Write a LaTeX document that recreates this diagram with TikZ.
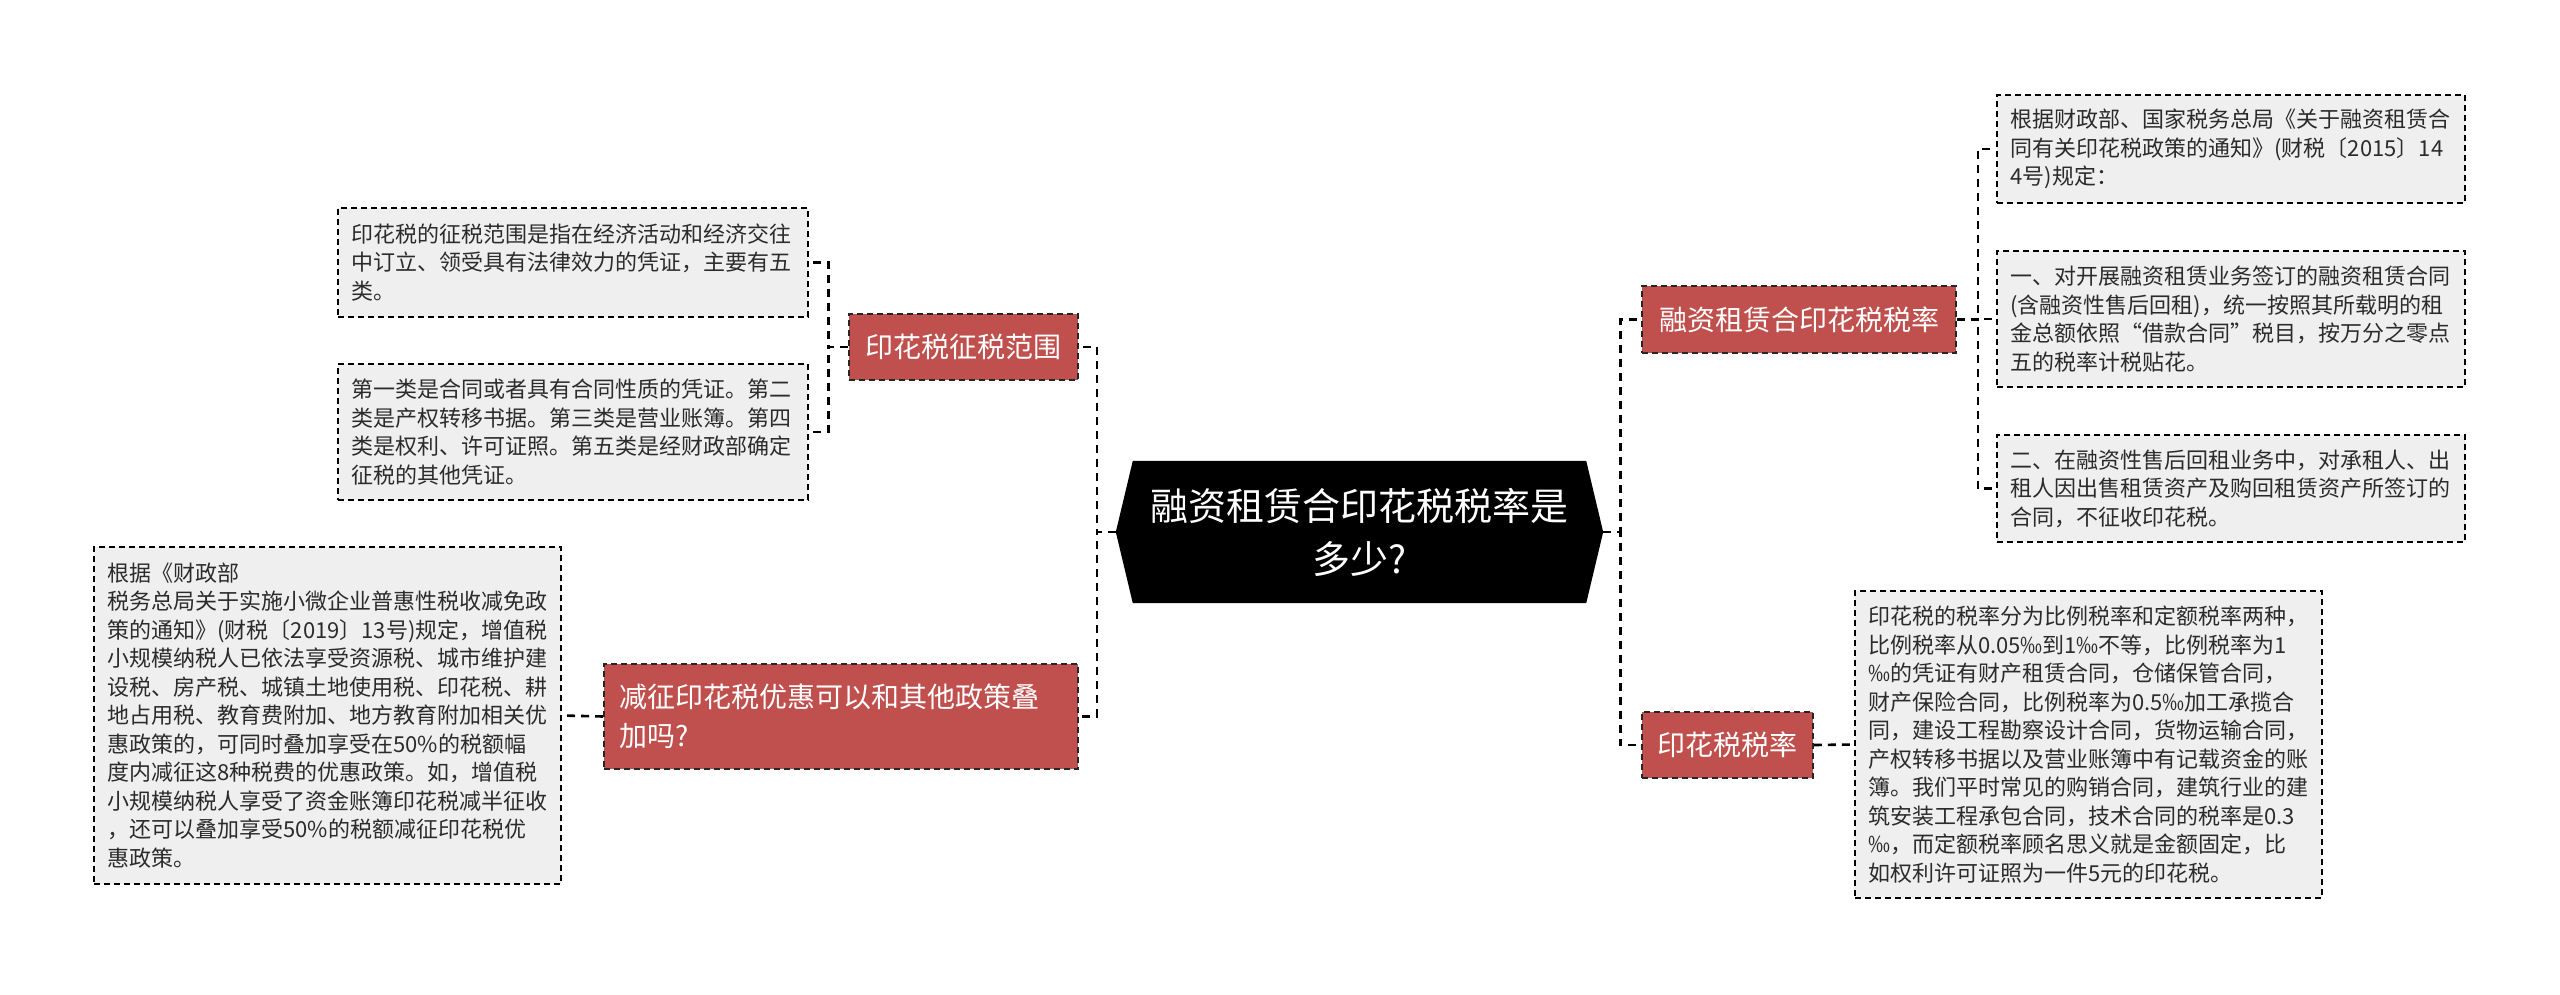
\documentclass[tikz,border=0pt]{standalone}
\usepackage{fontspec}
\setmainfont{Noto Sans CJK SC}
\usetikzlibrary{calc,backgrounds}
\definecolor{redfill}{HTML}{C0504D}
\definecolor{greyfill}{HTML}{EFEFEF}
\definecolor{txt}{HTML}{2B2B2B}
\tikzset{
  textbox/.style={draw=black, dash pattern=on 6pt off 4pt, line width=1.6pt, fill=greyfill, text=txt, align=left, inner sep=0pt, font=\fontsize{22}{28.5}\selectfont},
  redbox/.style={draw=black!85, dash pattern=on 6pt off 4pt, line width=1.6pt, fill=redfill, text=white, inner sep=0pt, font=\fontsize{28}{39}\selectfont},
  rootbox/.style={inner sep=0pt, text=white, align=center, font=\fontsize{38}{53}\selectfont},
  conn/.style={draw=black, line width=2.6pt, dash pattern=on 8pt off 6pt},
}
\begin{document}
\begin{tikzpicture}[x=1pt,y=-1pt]
\useasboundingbox (0,0) rectangle (2560,994);

% central node
\node[rootbox, minimum width=487pt, minimum height=142pt] (c) at (1359.5,532) {融资租赁合印花税税率是\\多少?};
\begin{scope}[on background layer]
\fill[black] (c.west) -- ($(c.north west)+(17,0)$) -- ($(c.north east)+(-17,0)$) -- (c.east) -- ($(c.south east)+(-17,0)$) -- ($(c.south west)+(17,0)$) -- cycle;
\end{scope}

% left branch 1
\node[redbox, minimum width=229pt, minimum height=66pt] (r1) at (963.5,347) {印花税征税范围};
\node[textbox, minimum width=470pt, minimum height=109pt, text width=443pt] (a) at (573,262.5) {印花税的征税范围是指在经济活动和经济交往\\中订立、领受具有法律效力的凭证，主要有五\\类。};
\node[textbox, minimum width=470pt, minimum height=136pt, text width=443pt] (b) at (573,432) {第一类是合同或者具有合同性质的凭证。第二\\类是产权转移书据。第三类是营业账簿。第四\\类是权利、许可证照。第五类是经财政部确定\\征税的其他凭证。};

% left branch 2
\node[redbox, align=left, minimum width=474pt, minimum height=105pt, text width=444pt] (r2) at (841,716.5) {减征印花税优惠可以和其他政策叠\\加吗?};
\node[textbox, minimum width=467pt, minimum height=337pt, text width=440pt] (cb) at (327.5,715.5) {根据《财政部\\税务总局关于实施小微企业普惠性税收减免政\\策的通知》(财税〔2019〕13号)规定，增值税\\小规模纳税人已依法享受资源税、城市维护建\\设税、房产税、城镇土地使用税、印花税、耕\\地占用税、教育费附加、地方教育附加相关优\\惠政策的，可同时叠加享受在50\%的税额幅\\度内减征这8种税费的优惠政策。如，增值税\\小规模纳税人享受了资金账簿印花税减半征收\\，还可以叠加享受50\%的税额减征印花税优\\惠政策。};

% right branch 1
\node[redbox, minimum width=314pt, minimum height=67pt] (r3) at (1799,319.5) {融资租赁合印花税税率};
\node[textbox, minimum width=468pt, minimum height=108pt, text width=441pt] (d) at (2231,149) {根据财政部、国家税务总局《关于融资租赁合\\同有关印花税政策的通知》(财税〔2015〕14\\4号)规定：};
\node[textbox, minimum width=468pt, minimum height=136pt, text width=441pt] (e) at (2231,319) {一、对开展融资租赁业务签订的融资租赁合同\\(含融资性售后回租)，统一按照其所载明的租\\金总额依照“借款合同”税目，按万分之零点\\五的税率计税贴花。};
\node[textbox, minimum width=468pt, minimum height=107pt, text width=441pt] (f) at (2231,488.5) {二、在融资性售后回租业务中，对承租人、出\\租人因出售租赁资产及购回租赁资产所签订的\\合同，不征收印花税。};

% right branch 2
\node[redbox, minimum width=171pt, minimum height=66pt] (r4) at (1727.5,745) {印花税税率};
\node[textbox, minimum width=467pt, minimum height=307pt, text width=441pt] (g) at (2088.5,744.5) {印花税的税率分为比例税率和定额税率两种，\\比例税率从0.05‰到1‰不等，比例税率为1\\‰的凭证有财产租赁合同，仓储保管合同，\\财产保险合同，比例税率为0.5‰加工承揽合\\同，建设工程勘察设计合同，货物运输合同，\\产权转移书据以及营业账簿中有记载资金的账\\簿。我们平时常见的购销合同，建筑行业的建\\筑安装工程承包合同，技术合同的税率是0.3\\‰，而定额税率顾名思义就是金额固定，比\\如权利许可证照为一件5元的印花税。};

% connectors
\draw[conn] (c.west) -- ++(-19,0) |- (r1.east);
\draw[conn] (c.west) -- ++(-19,0) |- (r2.east);
\draw[conn] (r1.west) -- ++(-20,0) |- (a.east);
\draw[conn] (r1.west) -- ++(-20,0) |- (b.east);
\draw[conn] (r2.west) -- (cb.east);
\draw[conn] (c.east) -- ++(17,0) |- (r3.west);
\draw[conn] (c.east) -- ++(17,0) |- (r4.west);
\draw[conn] (r3.east) -- ++(21,0) |- (d.west);
\draw[conn] (r3.east) -- ++(21,0) |- (e.west);
\draw[conn] (r3.east) -- ++(21,0) |- (f.west);
\draw[conn] (r4.east) -- (g.west);
\end{tikzpicture}
\end{document}
